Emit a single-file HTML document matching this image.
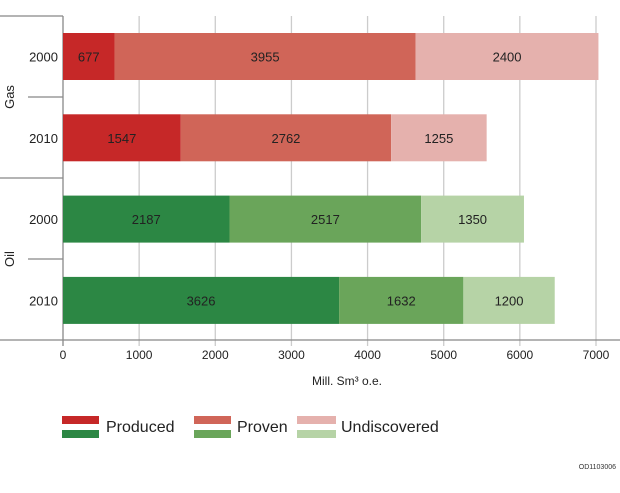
<!DOCTYPE html>
<html><head><meta charset="utf-8"><style>
body{margin:0;background:#fff;width:620px;height:488px;overflow:hidden;font-family:"Liberation Sans",sans-serif}
</style></head><body>
<svg id="chart" width="620" height="488" xmlns="http://www.w3.org/2000/svg" font-family="Liberation Sans, sans-serif">
<g id="grid"></g><g id="bars"></g><g id="axes"></g>
<text x="347" y="385" font-size="12" text-anchor="middle" fill="#222">Mill. Sm³ o.e.</text>
<text transform="translate(14,97) rotate(-90)" font-size="13" text-anchor="middle" fill="#222">Gas</text>
<text transform="translate(14,259) rotate(-90)" font-size="13" text-anchor="middle" fill="#222">Oil</text>
<g>
<rect x="62" y="416" width="37" height="8" fill="#c62828"/><rect x="62" y="430" width="37" height="8" fill="#2c8744"/>
<text x="106" y="432" font-size="16" fill="#222">Produced</text>
<rect x="194" y="416" width="37" height="8" fill="#d06558"/><rect x="194" y="430" width="37" height="8" fill="#6aa55a"/>
<text x="237" y="432" font-size="16" fill="#222">Proven</text>
<rect x="297" y="416" width="39" height="8" fill="#e5b1ad"/><rect x="297" y="430" width="39" height="8" fill="#b6d3a6"/>
<text x="341" y="432" font-size="16" fill="#222">Undiscovered</text>
</g>
<text x="616" y="469" font-size="7" text-anchor="end" fill="#333">OD1103006</text>
</svg>
<script>
const categories=["2000","2010","2000","2010"];
const groups=["Gas","Gas","Oil","Oil"];
const produced=[677,1547,2187,3626];
const proven=[3955,2762,2517,1632];
const undiscovered=[2400,1255,1350,1200];
const ticks=[0,1000,2000,3000,4000,5000,6000,7000];
const NS="http://www.w3.org/2000/svg";
const x=v=>63+v*(533/7000);
const rowY=i=>33+i*81.3;
const bh=47;
const colors={Gas:["#c62828","#d06558","#e5b1ad"],Oil:["#2c8744","#6aa55a","#b6d3a6"]};
function mk(tag,attrs,parent){const e=document.createElementNS(NS,tag);for(const k in attrs)e.setAttribute(k,attrs[k]);document.getElementById(parent).appendChild(e);return e;}
ticks.forEach(t=>{
 const g=mk("line",{x1:x(t),x2:x(t),y1:16,y2:346,stroke:t===0?"#888":"#ccc","stroke-width":1.3},"grid");
 
 
 const l=mk("text",{x:x(t),y:359,"font-size":12,"text-anchor":"middle",fill:"#222"},"axes");
 l.textContent=t;
 
 
});
[[0,340,620,340],[0,16,63,16],[0,178,63,178],[28,97,63,97],[28,259,63,259]].forEach(a=>{
 const ln=mk("line",{x1:a[0],y1:a[1],x2:a[2],y2:a[3],stroke:"#888","stroke-width":1.3},"axes");
 
 
});
categories.forEach((c,i)=>{
 const y=rowY(i);const vals=[produced[i],proven[i],undiscovered[i]];let s=0;
 vals.forEach((v,k)=>{
  const r=mk("rect",{x:x(s),y:y,width:x(s+v)-x(s),height:bh,fill:colors[groups[i]][k]},"bars");
  
  
  const t=mk("text",{x:(x(s)+x(s+v))/2,y:y+bh/2+5,"font-size":13,"text-anchor":"middle",fill:"#222"},"bars");
  t.textContent=v;
  
  
  s+=v;
 });
 const cl=mk("text",{x:58,y:y+bh/2+5,"font-size":13,"text-anchor":"end",fill:"#222"},"axes");
 cl.textContent=c;
 
 
});
</script>
</body></html>
